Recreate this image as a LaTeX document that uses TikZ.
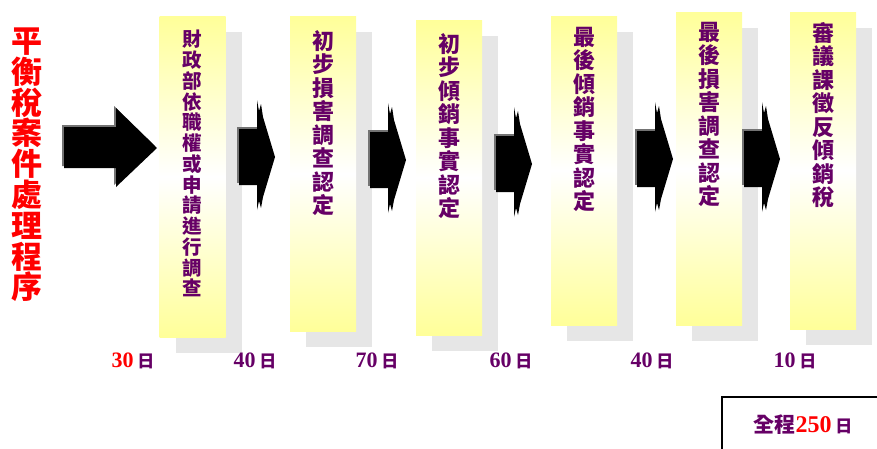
\documentclass[tikz,border=0pt]{standalone}
\usepackage{fontspec}
\setmainfont{Liberation Serif}
\newfontfamily\cjkfont{Noto Sans CJK TC}
\usetikzlibrary{
positioning,
calc,
shadows,
backgrounds
}
\definecolor{purpletext}{HTML}{660066}
\definecolor{paleyellow}{HTML}{FFFF99}
\definecolor{shadowgray}{HTML}{E6E6E6}
\newcommand{\dayunit}{\cjkfont\bfseries\fontsize{17}{17}\selectfont}

\begin{document}
\begin{tikzpicture}
[x=1pt, y=-1pt,
block_step/.style ={rectangle, draw=none, minimum width=66pt, inner sep=0, anchor=north, top color=paleyellow, bottom color=paleyellow, middle color=white, drop shadow={shadow xshift=16pt, shadow yshift=-16pt, opacity=1, fill=shadowgray}},
text_step/.style ={anchor=north, inner sep=0, align=center, text=purpletext, font=\cjkfont\bfseries\fontsize{22}{23.5}\selectfont},
text_title/.style ={inner sep=0, align=center, text=red, font=\cjkfont\bfseries\fontsize{31}{30.8}\selectfont},
label_day/.style ={inner sep=0, text=purpletext, font=\bfseries\fontsize{22}{24}\selectfont},
arrow_big/.pic ={
  \fill[black!55] (-95,-23) -- (-43,-23) -- (-43,-42) -- (-2,-2) -- (-43,37) -- (-43,18) -- (-95,18) -- cycle;
  \fill[black] (-93,-21) -- (-41,-21) -- (-41,-40) -- (0,0) -- (-41,39) -- (-41,20) -- (-93,20) -- cycle;
},
arrow_jag/.pic ={
  \fill[black!55] (-38,-30) rectangle (-18,26);
  \fill[black] (-36,-28) -- (-18,-28) -- (-18,-57) -- (-16,-46) -- (-14,-53) -- (-12,-40) -- (0,0) -- (-12,40) -- (-14,51) -- (-16,44) -- (-18,53) -- (-18,28) -- (-36,28) -- cycle;
}]

\useasboundingbox (0,0) rectangle (877,448);
\clip (0,0) rectangle (877,448);

% title
\node[text_title] (title) at (27,165) {平\\衡\\稅\\案\\件\\處\\理\\程\\序};

% boxes
\node[block_step, minimum height=321pt] (box1) at (192.5,16) {};
\node[block_step, minimum height=315pt] (box2) at (323,16) {};
\node[block_step, minimum height=315pt] (box3) at (449,20) {};
\node[block_step, minimum height=309pt] (box4) at (584,16) {};
\node[block_step, minimum height=313pt] (box5) at (709,12) {};
\node[block_step, minimum height=317pt] (box6) at (823,12) {};

\node[text_step, font=\cjkfont\bfseries\fontsize{19.5}{20.75}\selectfont] (text1) at ([yshift=-14pt]box1.north) {財\\政\\部\\依\\職\\權\\或\\申\\請\\進\\行\\調\\查};
\node[text_step] (text2) at ([yshift=-14pt]box2.north) {初\\步\\損\\害\\調\\查\\認\\定};
\node[text_step] (text3) at ([yshift=-13pt]box3.north) {初\\步\\傾\\銷\\事\\實\\認\\定};
\node[text_step] (text4) at ([yshift=-11pt]box4.north) {最\\後\\傾\\銷\\事\\實\\認\\定};
\node[text_step] (text5) at ([yshift=-10pt]box5.north) {最\\後\\損\\害\\調\\查\\認\\定};
\node[text_step] (text6) at ([yshift=-10pt]box6.north) {審\\議\\課\\徵\\反\\傾\\銷\\稅};

%%Arrows%%%
\pic at (157,148) {arrow_big};
\pic at (275,157) {arrow_jag};
\pic at (406,160) {arrow_jag};
\pic at (532,164) {arrow_jag};
\pic at (673,159) {arrow_jag};
\pic at (780,159) {arrow_jag};

%%Days%%%
\node[label_day] (day1) at (133,361) {\textcolor{red}{30}\,{\dayunit 日}};
\node[label_day] (day2) at (255,361) {40\,{\dayunit 日}};
\node[label_day] (day3) at (377,361) {70\,{\dayunit 日}};
\node[label_day] (day4) at (511,361) {60\,{\dayunit 日}};
\node[label_day] (day5) at (652,361) {40\,{\dayunit 日}};
\node[label_day] (day6) at (795,361) {10\,{\dayunit 日}};

% total
\draw[line width=2pt] (722,397) rectangle (900,470);
\node[label_day] (total) at (803,425) {{\cjkfont\fontsize{21}{21}\selectfont 全程}\textcolor{red}{\fontsize{24}{24}\selectfont 250}\,{\dayunit 日}};

\end{tikzpicture}
\end{document}
